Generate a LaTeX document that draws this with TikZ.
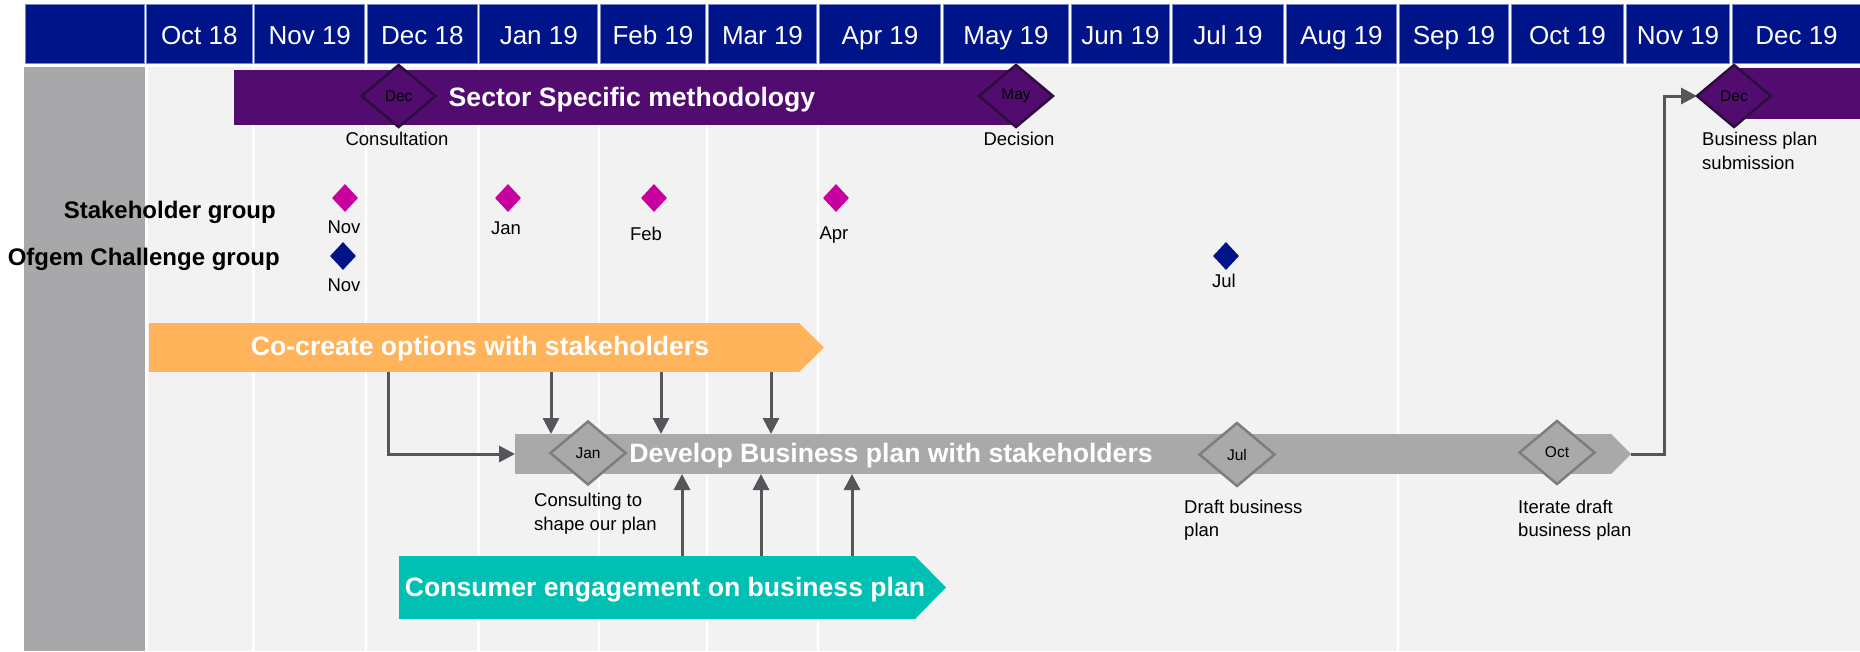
\documentclass[tikz,border=0pt]{standalone}
\usepackage{fontspec}
\setmainfont{Liberation Sans}
\usetikzlibrary{shapes.geometric,arrows.meta,calc}
\definecolor{hdrblue}{RGB}{0,20,137}
\definecolor{hdrline}{RGB}{120,135,200}
\definecolor{bodybg}{RGB}{242,242,242}
\definecolor{leftgrey}{RGB}{168,168,170}
\definecolor{ssmpurple}{RGB}{82,12,112}
\definecolor{ssmborder}{RGB}{45,12,62}
\definecolor{coorange}{RGB}{255,179,90}
\definecolor{devgrey}{RGB}{169,169,170}
\definecolor{devborder}{RGB}{125,125,127}
\definecolor{consteal}{RGB}{0,191,179}
\definecolor{sgmagenta}{RGB}{200,0,160}
\definecolor{connc}{RGB}{85,85,90}
\tikzset{
  hdrcell/.style={fill=hdrblue, draw=hdrline, line width=0.8pt, minimum height=59, inner sep=0pt, outer sep=0pt, text=white, text height=20.6pt, text depth=0pt, font=\fontsize{26}{31}\selectfont},
  barbody/.style={inner sep=0pt, outer sep=0pt, draw=none},
  bartext/.style={text=white, font=\fontsize{26.6}{32}\selectfont\bfseries, inner sep=0pt, anchor=base},
  pdiamond/.style={diamond, fill=ssmpurple, draw=ssmborder, line width=2.5pt, minimum width=74, minimum height=62, inner sep=0pt, outer sep=0pt, font=\fontsize{15.5}{18}\selectfont, text=black},
  gdiamond/.style={diamond, fill=devgrey, draw=devborder, line width=2.5pt, minimum width=75, minimum height=63, inner sep=0pt, outer sep=0pt, font=\fontsize{15.5}{18}\selectfont, text=black},
  sgdia/.style={diamond, fill=sgmagenta, minimum width=26, minimum height=28, inner sep=0pt},
  ocdia/.style={diamond, fill=hdrblue, minimum width=26, minimum height=28, inner sep=0pt},
  lbl/.style={font=\fontsize{18.5}{23.5}\selectfont, inner sep=0pt, text=black},
  lbltwo/.style={font=\fontsize{18.5}{23.5}\selectfont, inner sep=0pt, text=black, align=left, anchor=north west},
  rowlbl/.style={font=\fontsize{24}{29}\selectfont\bfseries, inner sep=0pt, anchor=base east, text=black},
  conn/.style={draw=connc, line width=3pt, -{Triangle[length=16pt,width=16pt]}},
  wline/.style={white, line width=2.5pt},
}
\begin{document}
\begin{tikzpicture}[x=1pt,y=-1pt]
\useasboundingbox (0,0) rectangle (1860,651);
\fill[white] (0,0) rectangle (1860,651);
% body
\fill[leftgrey] (24,67) rectangle (145,651);
\fill[bodybg] (147.5,67) rectangle (1860,651);
\foreach \x in {253.6,366,478.6,599,707,818,1398}
  \draw[wline] (\x,67) -- (\x,651);
% header
\node[hdrcell, minimum width=119.5] (hdr0) at (85,34) {};
\foreach \a/\b/\t [count=\i] in {145/253.6/Oct 18, 253.6/366/Nov 19, 366/478.6/Dec 18, 478.6/599/Jan 19, 599/707/Feb 19, 707/818/Mar 19, 818/942/Apr 19, 942/1070/May 19, 1070/1171/Jun 19, 1171/1285/Jul 19, 1285/1398/Aug 19, 1398/1510/Sep 19, 1510/1625/Oct 19, 1625/1731/Nov 19, 1731/1862/Dec 19}{
  \pgfmathsetmacro\w{\b-\a-2.5}
  \pgfmathsetmacro\cx{(\a+\b)/2}
  \node[hdrcell, minimum width=\w] (hdr\i) at (\cx,34) {\t};
}
% sector specific methodology
\node[barbody, fill=ssmpurple, minimum width=782, minimum height=55] (ssm) at (625,97.5) {};
\node[bartext] (ssmtext) at (632,106) {Sector Specific methodology};
\node[barbody, fill=ssmpurple, minimum width=126, minimum height=51] (ssm2) at (1797,93.5) {};
\node[pdiamond] (dec1) at (398.6,96) {Dec};
\node[pdiamond] (may) at (1016,96) {May};
\node[pdiamond] (dec2) at (1734,96) {Dec};
\node[lbl] (consult) at (397,139) {Consultation};
\node[lbl] (decision) at (1019,139) {Decision};
\node[lbltwo] (bpsub) at (1702,132) {Business plan\\submission};
% groups
\node[rowlbl] (sglbl) at (276,218.7) {Stakeholder group};
\node[rowlbl] (oclbl) at (280,265.7) {Ofgem Challenge group};
\node[sgdia] (sg1) at (345,198) {};
\node[sgdia] (sg2) at (508,198) {};
\node[sgdia] (sg3) at (654,198) {};
\node[sgdia] (sg4) at (836,198) {};
\node[lbl] (sg1l) at (344,227) {Nov};
\node[lbl] (sg2l) at (506,228) {Jan};
\node[lbl] (sg3l) at (646,234) {Feb};
\node[lbl] (sg4l) at (834,235) {Apr};
\node[ocdia] (oc1) at (343,256) {};
\node[ocdia] (oc2) at (1226,256) {};
\node[lbl] (oc1l) at (344,285) {Nov};
\node[lbl] (oc2l) at (1224,281) {Jul};
% co-create
\node[barbody, fill=coorange, minimum width=650, minimum height=49] (cocreate) at (474,347.5) {};
\coordinate (cotip) at (824,347.5);
\fill[coorange] (cocreate.north east) -- (cotip) -- (cocreate.south east) -- cycle;
\node[bartext] (cotext) at (480,355.7) {Co-create options with stakeholders};
% develop
\node[barbody, fill=devgrey, minimum width=1096, minimum height=40] (dev) at (1063,454) {};
\coordinate (devtip) at (1631,454);
\fill[devgrey] (dev.north east) -- (devtip) -- (dev.south east) -- cycle;
\node[bartext] (devtext) at (891,462.7) {Develop Business plan with stakeholders};
\node[gdiamond] (jan) at (588,453) {Jan};
\node[gdiamond] (jul) at (1237,454.5) {Jul};
\node[gdiamond] (oct) at (1557,452.5) {Oct};
\node[lbltwo] (conslbl) at (534,493) {Consulting to\\shape our plan};
\node[lbltwo] (draftlbl) at (1184,499.5) {Draft business\\plan};
\node[lbltwo] (iterlbl) at (1518,499.5) {Iterate draft\\business plan};
% consumer
\node[barbody, fill=consteal, minimum width=516, minimum height=63] (consumer) at (657,587.5) {};
\coordinate (contip) at (946,587.5);
\fill[consteal] (consumer.north east) -- (contip) -- (consumer.south east) -- cycle;
\node[bartext] (context) at (665,596.3) {Consumer engagement on business plan};
% connectors
\coordinate (x388) at (388,0);
\coordinate (x551) at (551,0);
\coordinate (x661) at (661,0);
\coordinate (x771) at (771,0);
\coordinate (x682) at (682,0);
\coordinate (x761) at (761,0);
\coordinate (x852) at (852,0);
\coordinate (x1664) at (1664,0);
\draw[conn] (x388 |- cocreate.south) |- (dev.west);
\foreach \c in {x551,x661,x771}
  \draw[conn] (\c |- cocreate.south) -- (\c |- dev.north);
\foreach \c in {x682,x761,x852}
  \draw[conn] (\c |- consumer.north) -- (\c |- dev.south);
\draw[conn] (devtip) -- (x1664 |- devtip) -- (x1664 |- dec2.west) -- (dec2.west);
\end{tikzpicture}
\end{document}
